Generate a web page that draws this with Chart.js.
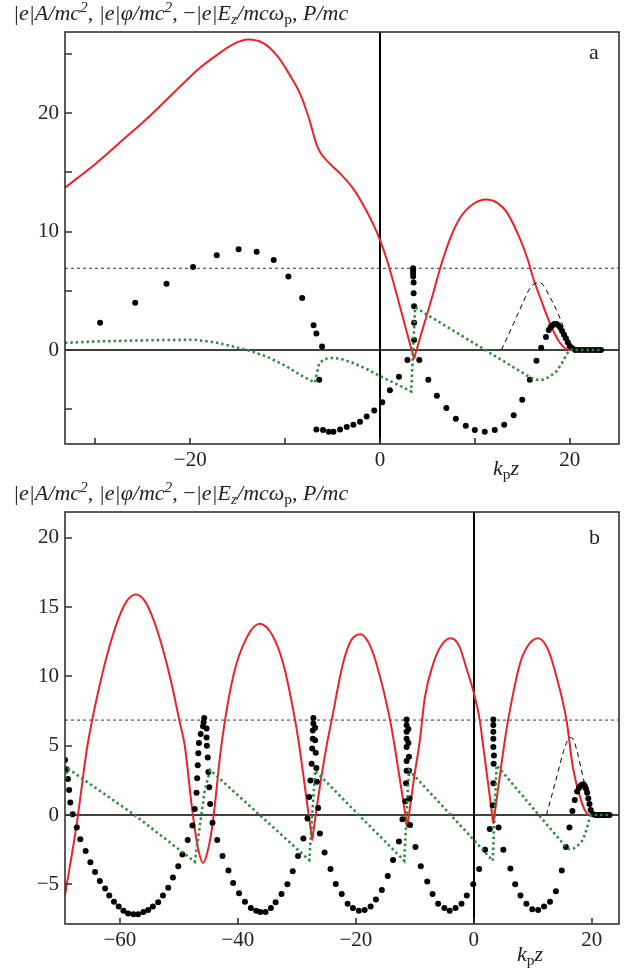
<!DOCTYPE html>
<html lang="en">

<head>
    <meta charset="UTF-8">
    <title>Wake potential and momentum</title>
    <script src="https://cdn.jsdelivr.net/npm/chart.js@4.4.0/dist/chart.umd.min.js"></script>
    <style>
        body { margin: 0; background: #fff; }
        #page {
            position: relative; width: 636px; height: 972px;
            font-family: 'Liberation Serif', 'DejaVu Serif', serif; color: #222;
        }
        canvas { position: absolute; left: 0; }
        .ytitle {
            position: absolute; left: 13px; font-size: 22px; font-style: italic;
            line-height: 26px; white-space: nowrap;
        }
        .ytitle sup, .ytitle sub, .xtitle sub { font-size: 70%; line-height: 0; }
        .ytitle sup { vertical-align: 8px; }
        .ytitle sub, .xtitle sub { vertical-align: -4px; }
        .r { font-style: normal; }
        .panel { position: absolute; font-size: 22px; line-height: 26px; }
        .xtitle { position: absolute; font-size: 22px; font-style: italic; line-height: 26px; white-space: nowrap; }
    </style>
</head>

<body>
    <div id="page">
        <canvas id="chartA" width="636" height="480" style="top:0"></canvas>
        <canvas id="chartB" width="636" height="492" style="top:480px"></canvas>

        <div class="ytitle" style="top:0px">|e|A/mc<sup>2</sup>, |e|φ/mc<sup>2</sup>, <span class="r">−</span>|e|E<sub>z</sub>/mcω<sub class="r">p</sub>, P/mc</div>
        <div class="panel" style="left:589px; top:39px">a</div>
        <div class="xtitle" style="left:493px; top:455px">k<sub class="r">p</sub>z</div>

        <div class="ytitle" style="top:480px">|e|A/mc<sup>2</sup>, |e|φ/mc<sup>2</sup>, <span class="r">−</span>|e|E<sub>z</sub>/mcω<sub class="r">p</sub>, P/mc</div>
        <div class="panel" style="left:589px; top:524px">b</div>
        <div class="xtitle" style="left:517px; top:941px">k<sub class="r">p</sub>z</div>
    </div>

    <script>
        // ---------- panel a ----------
        const aRedZ = [-33.2, -30, -27, -24.2, -21.5, -19, -17, -15.5, -13.9, -12.3, -10.8, -9.5, -8.4, -7.5, -6.7, -6.3,
            -5.5, -4.2, -2.8, -1.8, -0.7, 0, 0.7, 1.8, 2.8, 3.45, 3.6, 3.75, 4.4, 5.4, 6.5, 7.4, 8.4, 9.8, 11.2,
            12.4, 13.4, 14.7, 15.6, 16.1, 17.0, 17.9, 18.9, 19.8, 21, 23.5];
        const aRedV = [13.7, 15.7, 17.8, 19.8, 21.9, 23.8, 25.0, 25.8, 26.2, 25.9, 24.8, 23.2, 21.6, 19.6, 17.4, 16.7,
            15.9, 14.9, 13.6, 12.3, 10.6, 9.3, 7.7, 4.6, 1.6, -0.3, -0.7, -0.3, 1.5, 4.2, 7.3, 9.4, 11.1, 12.3, 12.7,
            12.4, 11.6, 9.5, 7.6, 6.2, 4.2, 2.3, 0.7, 0.05, 0, 0];

        const aDotZ = [-29.5, -25.8, -22.5, -19.7, -17.2, -14.9, -13.0, -11.2, -9.65, -8.2, -7.0, -6.7, -6.1, -6.4, -6.7,
            -6.0, -5.4, -4.9, -4.2, -3.5, -2.8, -2.1, -1.4, -0.6, 0.25, 1.05, 2.0, 2.9,
            3.6, 3.6, 3.6, 3.55, 3.55, 3.5, 3.5, 3.5, 3.5,
            4.15, 5.1, 6.0, 7.0, 8.0, 9.05, 10.0, 11.05, 12.1, 13.1, 14.1, 15.0, 15.8, 16.5, 17.0, 17.5,
            17.8, 18.0, 18.2, 18.4, 18.6, 18.8, 19.0, 19.2, 19.4, 19.6, 19.8, 20.0, 20.3,
            20.6, 20.95, 21.3, 21.65, 22.0, 22.35, 22.7, 23.0, 23.3];
        const aDotV = [2.3, 4.0, 5.6, 7.0, 8.0, 8.5, 8.3, 7.6, 6.2, 4.4, 2.1, 1.4, 0.3, -2.5, -6.7,
            -6.75, -6.9, -6.9, -6.7, -6.5, -6.3, -6.05, -5.6, -5.1, -4.4, -3.4, -2.25, -0.85,
            0.85, 2.3, 3.7, 4.8, 5.7, 6.2, 6.5, 6.75, 6.9,
            -0.85, -2.5, -3.85, -4.9, -5.8, -6.4, -6.75, -6.9, -6.75, -6.3, -5.5, -4.2, -2.5, -0.9, 0.2, 1.1,
            1.7, 1.95, 2.1, 2.2, 2.2, 2.1, 1.9, 1.6, 1.3, 1.0, 0.65, 0.35, 0.15,
            0, 0, 0, 0, 0, 0, 0, 0, 0];

        const aGrnZ = [-33.2, -30, -26, -22.5, -19.6, -17.5, -15.4, -14.0, -11.9, -9.8, -8.4, -6.85, -6.4, -5.8, -4.9,
            -3.9, -2.8, -1.4, 0, 1.7, 3.3, 3.7, 15.0, 15.8, 16.5, 17.2, 17.9, 18.6, 19.2, 19.65, 20.0, 23.3];
        const aGrnV = [0.6, 0.72, 0.8, 0.85, 0.87, 0.67, 0.28, 0.0, -0.56, -1.4, -2.1, -2.75, -1.1, -0.75, -0.65,
            -0.8, -1.1, -1.6, -2.2, -2.85, -3.5, 3.6, -1.9, -2.3, -2.5, -2.5, -2.25, -1.8, -1.1, -0.4, 0, 0];

        const aLaserZ = [12.8, 13.5, 14.4, 15.3, 15.8, 16.3, 16.7, 17.2, 17.9, 18.6, 19.3, 19.7, 20.2, 20.5];
        const aLaserV = [0, 1.2, 2.8, 4.4, 5.2, 5.6, 5.7, 5.5, 4.5, 3.4, 2.0, 1.0, 0.2, 0];

        const aXTicks = [-30, -20, -10, 0, 10, 20];
        const aXLabels = [-20, 0, 20];
        const aYTicks = [-5, 0, 5, 10, 15, 20, 25];
        const aYLabels = [0, 10, 20];
        const aLevel = 6.9;

        // ---------- panel b ----------
        const bRedZ = [-69.3, -67.3, -65.5, -63.3, -61.8, -60.3, -58.8, -57.3, -55.8, -54.3, -52.8, -51.3, -49.8, -49.0,
            -47.8, -46.8, -45.9, -45.0, -44.2, -42.8, -40.8, -38.5, -36.3, -34.2, -32.3, -30.3, -29.6, -28.5, -27.6,
            -27.4, -27.2, -26.3, -25.0, -24.1, -22.2, -20.8, -19.2, -17.8, -16.5, -14.2, -13.4, -12.3, -11.5, -11.3,
            -11.1, -10.2, -9.15, -8.3, -6.9, -5.4, -3.9, -2.5, -1.2, 0, 1.0, 1.6, 2.5, 3.1, 3.3, 3.5, 4.3, 5.25, 5.8,
            7.8, 9.3, 10.9, 12.5, 14.0, 15.7, 16.8, 17.8, 18.8, 19.7, 23.0];
        const bRedV = [-5.8, -0.6, 5.0, 9.6, 12.1, 14.1, 15.45, 15.9, 15.45, 14.1, 12.1, 9.6, 6.6, 5.0,
            0.6, -2.3, -3.45, -2.4, -0.36, 5.0, 10.0, 12.8, 13.8, 13.0, 10.9, 6.85, 5.0, 1.6, -1.2,
            -1.8, -1.2, 1.5, 4.9, 6.85, 10.9, 12.6, 13.05, 12.4, 10.9, 6.85, 4.9, 1.9, -0.3, -0.85,
            -0.3, 2.5, 5.4, 8.5, 10.9, 12.3, 12.75, 12.2, 10.5, 8.8, 6.85, 4.9, 2.0, 0.0, -0.6, 0.0, 2.5, 5.4, 6.85,
            10.9, 12.3, 12.75, 12.0, 10.0, 6.85, 3.4, 1.6, 0.36, 0, 0];

        const bDotZ = [
            -69.3, -69.0, -68.8, -68.6, -68.4, -68.0, -67.3, -66.7, -65.8, -65.0, -64.2, -63.4, -62.5, -61.8, -61.0,
            -60.2, -59.4, -58.6, -57.7, -56.9, -56.0, -55.2, -54.4, -53.5, -52.7, -51.8, -51.0, -50.1, -49.4, -48.5, -47.7,
            -47.3, -47.0, -46.9, -46.8, -46.7, -46.6, -46.3, -45.9, -45.8, -45.7, -45.3, -45.3, -45.25, -45.1, -45.0,
            -44.85, -44.7, -44.3,
            -43.5, -42.6, -41.6, -40.8, -39.8, -38.8, -37.8, -36.9, -36.2, -35.3, -34.4, -33.6, -32.6, -31.6, -30.7,
            -29.8, -28.9, -28.2,
            -27.9, -27.7, -27.5, -27.4, -27.3, -27.3, -27.2, -27.2, -26.9, -26.9, -26.8, -26.7, -26.6, -26.4,
            -26.1, -25.3, -24.3, -23.4, -22.4, -21.4, -20.5, -19.5, -18.5, -17.5, -16.6, -15.6, -14.6, -13.7, -12.7, -12.1,
            -11.6, -11.5, -11.4, -11.4, -11.4, -11.4, -11.4, -11.4, -11.4, -11.1, -11.1, -11.0, -11.0, -10.9,
            -10.8, -9.9, -9.0, -7.9, -7.0, -6.05, -5.0, -4.1, -3.1, -2.1, -1.2, -0.1, 0.9, 1.9, 2.7,
            3.2, 3.3, 3.35, 3.4, 3.3, 3.3, 3.3, 3.3, 3.3,
            4.2, 5.0, 6.2, 7.0, 7.9, 8.9, 9.9, 10.9, 11.9, 12.9, 13.9, 14.9, 15.6, 16.2, 16.7,
            17.1, 17.5, 17.8, 18.0, 18.2, 18.4, 18.6, 18.8, 19.0, 19.2, 19.4, 19.6, 19.8, 20.2,
            20.6, 20.95, 21.3, 21.65, 22.0, 22.35, 22.7, 23.0];
        const bDotV = [
            3.97, 3.3, 2.6, 1.8, 0.9, 0.05, -0.9, -1.75, -2.6, -3.4, -4.1, -4.75, -5.3, -5.8, -6.25,
            -6.6, -6.9, -7.1, -7.15, -7.15, -7.0, -6.85, -6.6, -6.3, -5.8, -5.25, -4.5, -3.7, -2.85, -1.8, -0.75,
            0.43, 1.6, 2.65, 3.6, 4.45, 5.2, 5.85, 6.4, 6.7, 7.0, 6.25, 5.6, 5.0, 4.15, 3.1,
            2.0, 0.8, -0.55,
            -1.8, -2.95, -4.0, -4.9, -5.65, -6.25, -6.7, -6.9, -7.0, -7.0, -6.7, -6.3, -5.7, -5.0, -4.05,
            -2.95, -1.7, -0.25,
            1.3, 2.5, 3.7, 4.8, 5.5, 6.1, 6.6, 7.0, 6.3, 5.4, 4.5, 3.4, 2.4, 0.5,
            -1.33, -2.7, -3.9, -4.98, -5.7, -6.4, -6.7, -6.9, -6.85, -6.6, -6.1, -5.4, -4.4, -3.25, -1.9, -0.3,
            1.0, 2.3, 3.2, 3.9, 4.9, 5.5, 6.0, 6.5, 6.9, 6.2, 5.2, 4.2, 3.2, 1.2,
            -0.72, -2.3, -3.7, -4.8, -5.7, -6.4, -6.7, -6.9, -6.7, -6.4, -5.8, -5.0, -3.9, -2.5, -1.0,
            0.7, 2.3, 3.7, 4.3, 4.9, 5.5, 6.0, 6.5, 6.9,
            -0.9, -2.5, -3.85, -5.0, -5.8, -6.4, -6.8, -6.85, -6.6, -6.25, -5.5, -4.0, -2.3, -0.9, 0.29,
            1.08, 1.7, 1.95, 2.05, 2.15, 2.2, 2.2, 2.1, 1.9, 1.6, 1.2, 0.8, 0.36, 0.05,
            0, 0, 0, 0, 0, 0, 0, 0];

        const bGrnZ = [-69.3, -68.8, -57.5, -47.3, -45.6, -44.7, -36.3, -27.9, -26.9, -19.5, -11.8, -11.0, -3.9, 3.2,
            3.85, 15.6, 16.2, 16.8, 17.5, 18.5, 19.1, 19.5, 19.9, 23.0];
        const bGrnV = [2.6, 3.35, 0, -3.37, 1.8, 3.25, 0, -3.25, 3.2, 0, -3.3, 3.25, 0, -3.3,
            3.6, -2.3, -2.45, -2.45, -2.25, -1.8, -1.05, -0.4, 0, 0];

        const bLaserZ = [12.3, 13.2, 14.2, 15.2, 15.8, 16.4, 16.9, 17.5, 18.2, 18.9, 19.4, 19.9, 20.3];
        const bLaserV = [0, 1.4, 3.0, 4.6, 5.3, 5.6, 5.4, 4.6, 3.3, 2.0, 1.0, 0.3, 0];

        const bXTicks = [-60, -40, -20, 0, 20];
        const bXLabels = [-60, -40, -20, 0, 20];
        const bYTicks = [-5, 0, 5, 10, 15, 20];
        const bYLabels = [-5, 0, 5, 10, 15, 20];
        const bLevel = 6.85;

        const RED = 'rgb(232, 36, 40)';
        const GREEN = 'rgb(44, 140, 62)';
        const TICKFONT = { family: "'Liberation Serif', serif", size: 21 };

        function pts(zs, vs) {
            return zs.map((z, i) => ({ x: z, y: vs[i] }));
        }

        function fmt(v) {
            return v < 0 ? '\u2212' + (-v) : String(v);
        }

        // axes through zero, box and inward tick marks
        const frame = {
            id: 'frame',
            beforeDatasetsDraw(chart) {
                const { ctx, chartArea: a, scales: { x, y } } = chart;
                const x0 = Math.round(x.getPixelForValue(0));
                const y0 = Math.round(y.getPixelForValue(0));
                ctx.save();
                ctx.strokeStyle = '#000';
                ctx.lineWidth = 1.5;
                ctx.beginPath();
                ctx.moveTo(a.left, y0);
                ctx.lineTo(a.right, y0);
                ctx.stroke();
                ctx.lineWidth = 2;
                ctx.beginPath();
                ctx.moveTo(x0, a.top);
                ctx.lineTo(x0, a.bottom);
                ctx.stroke();
                ctx.restore();
            },
            afterDraw(chart) {
                const { ctx, chartArea: a, scales: { x, y } } = chart;
                ctx.save();
                ctx.strokeStyle = '#333';
                ctx.lineWidth = 1.6;
                ctx.strokeRect(a.left, a.top, a.right - a.left, a.bottom - a.top);
                ctx.beginPath();
                x.ticks.forEach(t => {
                    const px = Math.round(x.getPixelForValue(t.value));
                    ctx.moveTo(px, a.bottom);
                    ctx.lineTo(px, a.bottom - 6);
                });
                y.ticks.forEach(t => {
                    const py = Math.round(y.getPixelForValue(t.value));
                    ctx.moveTo(a.left, py);
                    ctx.lineTo(a.left + 7, py);
                });
                ctx.stroke();
                ctx.restore();
            }
        };

        function makeChart(id, p) {
            const datasets = [
                {
                    label: 'level', data: pts([p.xMin, p.xMax], [p.level, p.level]), showLine: true,
                    borderColor: '#333', borderWidth: 1, borderDash: [3, 3], pointRadius: 0, order: 4
                },
                {
                    label: '|e|φ/mc²', data: pts(p.redZ, p.redV), showLine: true, borderColor: RED,
                    borderWidth: 2, pointRadius: 0, cubicInterpolationMode: 'monotone', order: 3
                },
                {
                    label: 'P/mc', data: pts(p.dotZ, p.dotV), showLine: false, pointRadius: 3,
                    backgroundColor: '#000', borderWidth: 0, order: 2
                },
                {
                    label: '|e|A/mc²', data: pts(p.laserZ, p.laserV), showLine: true, borderColor: '#000',
                    borderWidth: 1, borderDash: [5, 4], pointRadius: 0, cubicInterpolationMode: 'monotone', order: 1
                },
                {
                    label: '−|e|Ez/mcωp', data: pts(p.grnZ, p.grnV), showLine: true, borderColor: GREEN,
                    borderWidth: 2.6, borderDash: [2.4, 3], pointRadius: 0, tension: 0, order: 0
                }
            ];

            return new Chart(document.getElementById(id), {
                type: 'scatter',
                data: { datasets: datasets },
                options: {
                    responsive: false,
                    animation: false,
                    devicePixelRatio: 1,
                    layout: { padding: { top: 32, right: 17, left: 0, bottom: 0 } },
                    plugins: { legend: { display: false }, tooltip: { enabled: false } },
                    scales: {
                        x: {
                            type: 'linear', min: p.xMin, max: p.xMax,
                            afterBuildTicks: s => { s.ticks = p.xTicks.map(v => ({ value: v })); },
                            afterFit: s => { s.height = p.xAxisH; },
                            ticks: {
                                callback: v => p.xLabels.includes(v) ? fmt(v) : '',
                                font: TICKFONT, color: '#222', padding: 4, autoSkip: false, maxRotation: 0
                            },
                            grid: { display: false, drawTicks: false },
                            border: { display: false }
                        },
                        y: {
                            type: 'linear', min: p.yMin, max: p.yMax,
                            afterBuildTicks: s => { s.ticks = p.yTicks.map(v => ({ value: v })); },
                            afterFit: s => { s.width = 65; },
                            ticks: {
                                callback: v => p.yLabels.includes(v) ? fmt(v) : '',
                                font: TICKFONT, color: '#222', padding: 6, autoSkip: false
                            },
                            grid: { display: false, drawTicks: false },
                            border: { display: false }
                        }
                    }
                },
                plugins: [frame]
            });
        }

        makeChart('chartA', {
            xMin: -33.2, xMax: 25.2, yMin: -7.93, yMax: 26.84, xAxisH: 36,
            xTicks: aXTicks, xLabels: aXLabels, yTicks: aYTicks, yLabels: aYLabels, level: aLevel,
            redZ: aRedZ, redV: aRedV, dotZ: aDotZ, dotV: aDotV, grnZ: aGrnZ, grnV: aGrnV,
            laserZ: aLaserZ, laserV: aLaserV
        });

        makeChart('chartB', {
            xMin: -69.3, xMax: 24.6, yMin: -7.86, yMax: 21.86, xAxisH: 48,
            xTicks: bXTicks, xLabels: bXLabels, yTicks: bYTicks, yLabels: bYLabels, level: bLevel,
            redZ: bRedZ, redV: bRedV, dotZ: bDotZ, dotV: bDotV, grnZ: bGrnZ, grnV: bGrnV,
            laserZ: bLaserZ, laserV: bLaserV
        });
    </script>
</body>

</html>
